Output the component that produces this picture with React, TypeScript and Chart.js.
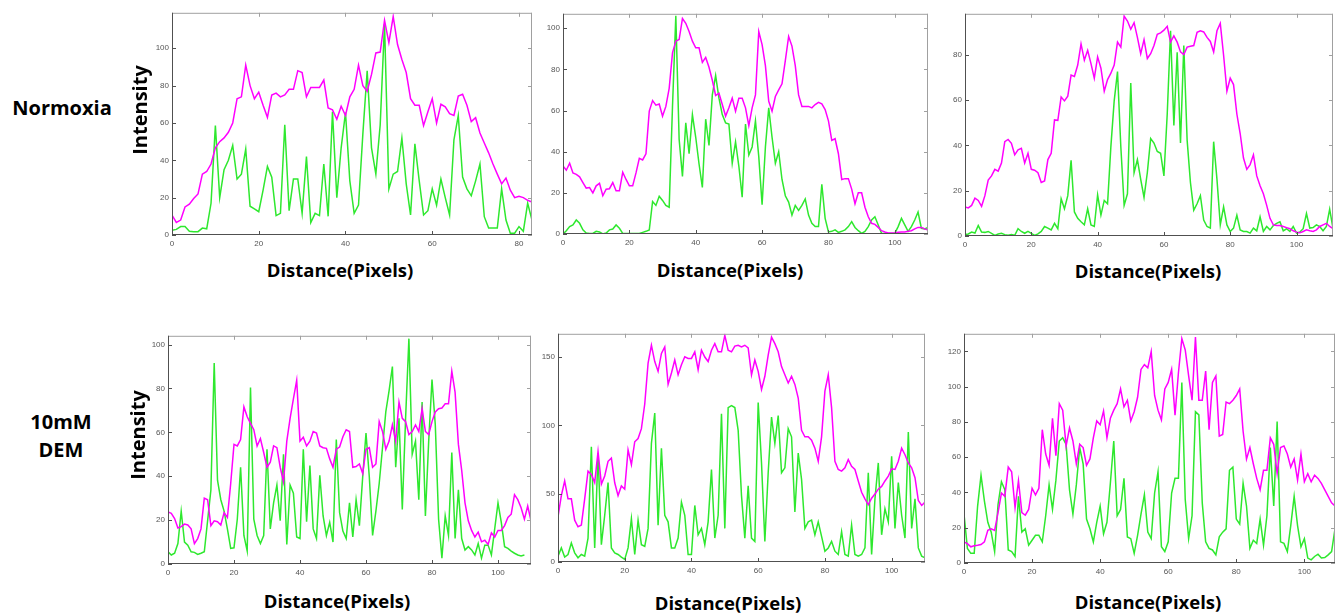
import React, { useEffect, useRef } from 'react';
import { Chart, registerables } from 'chart.js';

Chart.register(...registerables);

// ---------- data (intensity profiles, one value per pixel) ----------
const p1Magenta = [10.7, 6.7, 8, 15, 16.5, 19.5, 22, 32.6, 34, 38, 46.7, 50, 52, 55, 60, 73, 74, 91, 80, 73, 76.5, 69.5, 63, 75, 76, 74, 75, 78, 78, 88, 87, 74, 79, 79, 79, 83, 68, 67, 62, 69, 64, 74, 78, 91, 80, 77, 86, 97.5, 98, 115, 103, 117, 102, 94, 87, 73, 69.5, 69.5, 58.6, 66, 73, 60, 70, 68.6, 65, 64, 74.4, 75.4, 69.5, 60.7, 62.8, 54.6, 49.3, 44, 38, 32.6, 27.4, 30.5, 24, 20, 20.7, 20, 18.6, 17.7];
const p1Green = [2.5, 3, 4.5, 4.5, 2, 1.8, 1.8, 3.7, 3.3, 17, 58.6, 20, 35, 40, 48, 30, 32.6, 46, 15.4, 14, 12.5, 24, 36.7, 31, 10.4, 11.6, 59, 13, 30, 30, 11.6, 42, 6.7, 11.6, 10.4, 38, 10, 66, 20, 46.7, 65.6, 29, 11.6, 16, 54, 88, 46.7, 32.6, 59, 113, 24.7, 32.6, 34, 52, 27.4, 10.7, 48.8, 29, 10.7, 13, 24.7, 16, 30, 20, 10.7, 51, 64, 31, 24.7, 21, 29, 38, 9.8, 3.7, 3.7, 3.7, 24.7, 8, 1, 1, 4.5, 2, 17, 8];

const p2Magenta = [33, 31, 34.4, 29.7, 29, 27.8, 25, 22.3, 22.6, 20, 23.4, 24.6, 18.6, 21.8, 22, 25, 21, 21, 30, 26.5, 23.4, 23.4, 29.7, 36.8, 36, 39, 59.7, 64.8, 62.6, 63.2, 57.3, 62, 70.8, 88, 93.7, 94.5, 104.7, 102.4, 98.4, 93.7, 90.5, 90.5, 83.4, 85.8, 81, 74.7, 67.3, 68.4, 62.9, 57.3, 61.3, 66, 59.7, 66, 66, 61.3, 52.6, 61.3, 67.6, 98.4, 92, 81.8, 64.5, 59.7, 66.8, 70, 73, 84.2, 96, 91.3, 81.8, 67.6, 62, 62, 62, 61.3, 62.9, 64, 63.2, 60.5, 55, 45.5, 46.3, 39, 26.5, 26.9, 26.9, 21.8, 14.7, 20, 20, 13, 8.4, 5.2, 4.7, 3.2, 1.6, 1, 0.5, 0.5, 0.5, 0.8, 1, 1, 1.3, 1.6, 2.5, 3.2, 3.2, 2.5, 1.9];
const p2Green = [0, 1.6, 3.6, 4.4, 6.8, 5.2, 2, 0.5, 0.3, 0.3, 1.3, 1, 0, 0.5, 2, 2.4, 4.4, 2.8, 0.3, 0.3, 0.3, 0.3, 0.3, 0.3, 0.8, 1.3, 2, 15.8, 13.9, 18.3, 16.3, 13.9, 13, 62, 106, 46, 28, 54, 39, 58, 47, 34, 22.6, 55.8, 43, 67.6, 77, 66, 58, 54, 53.4, 34.4, 44.7, 32.9, 17.9, 53.4, 38.4, 42.3, 55, 37.6, 14.2, 42.3, 61.3, 47, 34.4, 40, 26.5, 18.6, 15.5, 9.2, 13.9, 11.5, 13.9, 17, 9.2, 5.2, 3.6, 3.6, 24.2, 7.6, 1, 1.3, 2, 0.8, 1.3, 2, 3.6, 6, 3.2, 1.6, 0.3, 1.3, 3.6, 6.8, 8.4, 4.4, 0.3, 0.3, 0.3, 0.3, 0.3, 3.6, 7.6, 4.4, 1.3, 3.6, 6.8, 10.7, 2.8, 2.5, 3.2];

const p3Magenta = [12.8, 12.4, 13.5, 16.7, 15.7, 13.1, 17.8, 24.7, 26.5, 29.4, 28.6, 32.2, 41.6, 42.6, 40.9, 35.8, 38, 38.7, 32.2, 36.5, 29.4, 29, 27.9, 23.6, 24.3, 33.7, 36.5, 51.2, 51, 61.3, 59.6, 61.7, 71, 70.4, 75.4, 84.7, 77.6, 81.9, 76, 69.6, 79, 74, 63.9, 69, 71.8, 75.4, 85.5, 83.3, 97, 94.8, 91.2, 94.1, 87.6, 80.4, 86.6, 78.3, 80.4, 84, 89, 89.6, 90.8, 92.5, 85.5, 88.3, 85.5, 81.2, 80, 83.3, 83.7, 84, 89.8, 90.5, 90, 87.6, 85.8, 81.2, 90.5, 93.8, 79.7, 63.9, 69.6, 66.8, 53.8, 45.2, 34.4, 29.4, 31.5, 35.8, 26.5, 22.2, 18.6, 13.5, 7.8, 4.9, 4.6, 4.6, 4.2, 3.7, 3.2, 2.3, 1.7, 1.4, 2, 2.7, 2.3, 2, 2.7, 4.2, 4.9, 5.6, 4.2, 3.2];
const p3Green = [0.6, 0.9, 1.7, 1.3, 4.6, 1.7, 1.6, 2, 1.2, 0.3, 0.9, 1.2, 0.6, 0.3, 0.6, 0.3, 3.2, 2, 1.2, 2, 1.2, 0.3, 0.9, 2, 4.2, 3.5, 2.7, 5.6, 3.2, 16.4, 12, 17.8, 33.4, 10.6, 7.8, 6.3, 4.9, 12, 4.9, 4.2, 18.1, 9.2, 15.7, 14.2, 39.4, 59.6, 72.5, 39.4, 13.5, 18.6, 67.5, 27.9, 33.7, 25, 17, 28, 43, 41, 37.3, 36.5, 26.5, 53.8, 90.5, 48.8, 81, 41, 84, 42.3, 23.6, 11.4, 14.2, 17.8, 7, 4.2, 3.5, 41.6, 25, 4.9, 12.8, 4.9, 2, 3.5, 9.2, 2.7, 2, 2, 1.3, 3.5, 2.3, 8.5, 2, 4.2, 2.7, 4.6, 5.6, 6.3, 2.3, 3.2, 2, 4.2, 1.3, 1.7, 3.2, 9.9, 3.5, 3.7, 4.9, 4.2, 2.3, 4.2, 11.8, 3.2];

const p4Magenta = [23.7, 23.1, 20.7, 16.4, 17, 18.2, 17.8, 16, 9.3, 11.6, 16, 30, 29.3, 17.5, 19.7, 19.3, 17.8, 23.4, 21.2, 36.7, 54.5, 53.8, 56.7, 71.6, 67.1, 64.1, 61.2, 53.8, 57.2, 50.8, 44.1, 46.4, 53.8, 53, 44.1, 37.5, 56, 66.4, 75.3, 83.7, 56, 57.8, 53.8, 56, 60.4, 59.7, 53.8, 53, 52.7, 47.9, 44.1, 52.3, 53.3, 58, 61.2, 60.4, 44.1, 44.4, 45.6, 41.2, 52.3, 53, 44.1, 45.6, 64.9, 60.4, 52.3, 56, 63.4, 56, 73.8, 66.4, 64.9, 59, 60.4, 63.4, 60.4, 70.8, 60.4, 59, 64.9, 69.3, 70.8, 71.1, 73, 73, 87.9, 78.2, 54.5, 42.7, 27.9, 19.7, 15.3, 12.3, 14.5, 10.1, 10.8, 8.9, 14.2, 12.3, 15.3, 15.3, 17.5, 21.2, 22.7, 31.6, 29.3, 25.6, 20.4, 26.4, 19.7];
const p4Green = [5.6, 4.1, 4.9, 9.3, 24.1, 10, 8.6, 5.6, 5.3, 4.4, 4.9, 5.6, 19.7, 33.8, 91.6, 38.2, 29.3, 24.1, 16, 7.1, 7.4, 20.4, 44.1, 13, 5.9, 80.4, 20.4, 13, 9.3, 13, 52.3, 16, 27.9, 36, 19.7, 50, 8.9, 36, 32.3, 12.3, 11.6, 52.3, 19.3, 44.9, 16, 11.6, 40.4, 21.9, 13, 19, 10, 56.7, 23.4, 15, 11.6, 27.9, 12.3, 29.3, 17.5, 39.7, 59.7, 39.7, 13, 24.1, 36.7, 53, 69.3, 79, 90, 44.1, 66.4, 24.9, 66.4, 102.7, 50, 56, 29.3, 73.8, 21.9, 56, 84.1, 63.4, 20.4, 2.7, 21.9, 13, 50.8, 11.6, 33.8, 11.6, 6.4, 7.9, 6.4, 4.1, 9.3, 2.7, 8.6, 8.6, 4.1, 16, 27.9, 19, 7.9, 7.1, 5.9, 4.9, 4.1, 3.7, 4.1];

const p5Magenta = [33, 48.6, 59.3, 46.2, 46.2, 30.6, 25.8, 27, 46.2, 66.5, 64.1, 58.1, 80.9, 57, 63, 73.7, 76, 58, 48.6, 55.7, 53.3, 82, 71.3, 88, 90.4, 97.6, 115.6, 145.5, 158.6, 146.7, 139.5, 152.6, 157.4, 130, 138.3, 147.8, 137, 144.3, 150.2, 149, 149, 153.8, 140.7, 155, 150, 146.7, 155, 159.8, 153.8, 153.8, 165.8, 155, 153.8, 158, 158.6, 157.4, 158.6, 156.7, 137, 147.8, 139.5, 126.3, 135.9, 151.4, 164.6, 159.8, 153.8, 143, 137, 131, 135.9, 130, 120, 96.4, 91.6, 91.6, 89.2, 83.3, 73.7, 91.6, 125, 137, 113, 73.7, 67.7, 66.5, 68.9, 74.9, 70, 67.7, 59.3, 51, 46.2, 41.9, 46.7, 49.8, 53.3, 55.3, 59.3, 62.9, 68.2, 67.7, 73.7, 83.3, 78.5, 72.5, 68.9, 61.7, 45, 41.4, 43.8];
const p5Green = [4.3, 10.3, 3.6, 5.5, 13.9, 6.7, 3.1, 5.5, 4.3, 17.5, 84.4, 10.3, 79.7, 12.7, 34.2, 58.1, 10.3, 6.7, 5.5, 3.6, 1.9, 10.3, 31.8, 5.5, 30.6, 12.7, 11.5, 24.6, 86.8, 109, 27, 83.3, 34.2, 29.4, 10.3, 10.3, 17.5, 43.8, 34.2, 5.5, 5.5, 41.4, 19.9, 24.6, 12.7, 29.4, 67.7, 17.5, 34.2, 108.4, 24.6, 113, 114.4, 113, 96.4, 48.6, 17.5, 55.7, 17.5, 15, 116.7, 72.5, 15, 65.3, 106, 86.8, 107.2, 65.3, 68.9, 97.6, 91.6, 36.6, 79.7, 60.5, 24.6, 29.4, 30.6, 19.9, 29.4, 18.7, 7.9, 10.3, 15, 7.9, 5.5, 22.2, 5.5, 4.3, 27, 5.5, 4.3, 5.5, 10.3, 65.3, 5.5, 46.2, 72.5, 19.9, 39, 29.4, 77.3, 24.6, 58.1, 34.2, 17.5, 95.2, 24.6, 46.2, 10.3, 4.3, 3.1];

const p6Magenta = [12, 11, 9.2, 9.8, 10.1, 10.5, 12, 18.5, 19.4, 18.5, 28.6, 39.7, 37.8, 54.4, 51.7, 31.4, 46.7, 28.6, 27.1, 30.4, 42.4, 38.7, 42.4, 75.6, 61.8, 55.4, 82.1, 60.9, 90.4, 86.7, 66.4, 76.6, 69.2, 56.3, 67.3, 65.5, 55.4, 59, 71, 80.6, 78.4, 86.2, 71, 82.1, 86.7, 90.4, 98.7, 88.6, 92.3, 80.6, 85.8, 94, 109.8, 112.5, 110.7, 119.9, 95, 86.7, 81.2, 98.7, 102.4, 109.8, 83.9, 107.9, 127.3, 120.8, 106.1, 92.3, 128.2, 92.3, 92.3, 108.9, 75.6, 102.4, 106.1, 72, 72.9, 91.3, 90.4, 92.3, 95, 98.7, 74.7, 59, 65.5, 56.3, 48, 41.5, 52.6, 52.6, 71, 67.3, 50.7, 65.5, 66.4, 61.8, 54.4, 59, 47, 61.8, 46.1, 50.7, 46.1, 49.8, 48, 45.2, 41.5, 37.8, 34.1, 32.3];
const p6Green = [27.7, 8.3, 5.5, 5.5, 32.3, 49.8, 35.1, 23.1, 17.5, 6.5, 33.2, 46.1, 41.5, 7.4, 6.5, 3.7, 37.8, 17.5, 19.4, 10.1, 12.9, 15.7, 15.7, 12, 26.8, 44.3, 30.4, 47, 69.2, 71, 67.3, 41.5, 27.7, 44.3, 65.5, 56.3, 24.9, 19.4, 12, 23.1, 32.3, 16.6, 23.1, 45.2, 69.2, 26.8, 30.4, 48, 14.8, 13.8, 5.5, 15.7, 27.7, 38.7, 17.5, 13.8, 39.7, 51.7, 9.2, 6.5, 12, 39.7, 48, 48, 102.4, 36, 13.8, 26.8, 85.8, 84, 34.1, 12, 8.3, 7.4, 4.6, 14.8, 17.5, 19.4, 52.6, 54.4, 24.9, 22.1, 45.2, 32.3, 8.3, 12.9, 11.1, 24.9, 10.1, 26.8, 65.5, 32.3, 80.3, 12, 11.1, 6.5, 21.2, 37.8, 21.2, 9.2, 13.8, 2.8, 1.8, 3.7, 5, 2.8, 3.1, 4.6, 6.5, 19.4];

// axis extents and tick steps
const xMaxes = [83, 110, 111, 110, 110, 109];
const yMaxes = [119, 107, 98, 104, 167, 130];
const yStepList = [20, 20, 20, 20, 50, 20];
const xStep = 20;

const rowLabels = ['Normoxia', '10mM\nDEM'];
const xTitle = 'Distance(Pixels)';
const yTitle = 'Intensity';

// ---------- layout & style ----------
const MAGENTA = '#ff00ff';
const GREEN = '#2ee82e';
const Y_AXIS_W = 30;
const X_AXIS_H = 16;
const PAD = 3;
const TITLE_FONT = '"Open Sans", "Noto Sans", sans-serif';

const boxes = [
  { left: 172, top: 8, right: 532, bottom: 234.5 },
  { left: 562.7, top: 9, right: 928, bottom: 234.3 },
  { left: 965, top: 9, right: 1333, bottom: 236.3 },
  { left: 168.3, top: 330.7, right: 531, bottom: 564 },
  { left: 558.3, top: 329, right: 925, bottom: 562.3 },
  { left: 964, top: 329, right: 1335, bottom: 563 },
];

const magentaSeries = [p1Magenta, p2Magenta, p3Magenta, p4Magenta, p5Magenta, p6Magenta];
const greenSeries = [p1Green, p2Green, p3Green, p4Green, p5Green, p6Green];

const framePlugin = {
  id: 'frameTicks',
  afterDraw(chart: any) {
    const { ctx, chartArea: a, scales } = chart;
    const t = 4;
    ctx.save();
    ctx.lineWidth = 1;
    ctx.strokeStyle = '#a0a0a0';
    ctx.beginPath();
    ctx.moveTo(a.left, a.top + 0.5);
    ctx.lineTo(a.right, a.top + 0.5);
    ctx.moveTo(a.right - 0.5, a.top);
    ctx.lineTo(a.right - 0.5, a.bottom);
    scales.x.ticks.forEach((tk: any) => {
      const px = Math.round(scales.x.getPixelForValue(tk.value)) + 0.5;
      ctx.moveTo(px, a.top);
      ctx.lineTo(px, a.top + t);
    });
    scales.y.ticks.forEach((tk: any) => {
      const py = Math.round(scales.y.getPixelForValue(tk.value)) + 0.5;
      ctx.moveTo(a.right, py);
      ctx.lineTo(a.right - t, py);
    });
    ctx.stroke();
    ctx.strokeStyle = '#505050';
    ctx.beginPath();
    ctx.moveTo(a.left + 0.5, a.top);
    ctx.lineTo(a.left + 0.5, a.bottom);
    ctx.moveTo(a.left, a.bottom - 0.5);
    ctx.lineTo(a.right, a.bottom - 0.5);
    scales.x.ticks.forEach((tk: any) => {
      const px = Math.round(scales.x.getPixelForValue(tk.value)) + 0.5;
      ctx.moveTo(px, a.bottom);
      ctx.lineTo(px, a.bottom - t);
    });
    scales.y.ticks.forEach((tk: any) => {
      const py = Math.round(scales.y.getPixelForValue(tk.value)) + 0.5;
      ctx.moveTo(a.left, py);
      ctx.lineTo(a.left + t, py);
    });
    ctx.stroke();
    ctx.restore();
  },
};

function ProfileChart({ idx }: { idx: number }) {
  const ref = useRef<HTMLCanvasElement>(null);
  const b = boxes[idx];
  const left = Math.round(b.left) - Y_AXIS_W;
  const top = Math.round(b.top) - PAD;
  const w = Math.round(b.right) - Math.round(b.left) + Y_AXIS_W + PAD;
  const h = Math.round(b.bottom) - Math.round(b.top) + PAD + X_AXIS_H;

  useEffect(() => {
    if (!ref.current) return;
    const toPts = (arr: number[]) => arr.map((v, i) => ({ x: i, y: v }));
    const tickFont = { family: '"Liberation Sans", Arial, sans-serif', size: 8 };
    const chart = new Chart(ref.current, {
      type: 'line',
      data: {
        datasets: [
          { data: toPts(magentaSeries[idx]), borderColor: MAGENTA, borderWidth: 1.5, pointRadius: 0, tension: 0, fill: false },
          { data: toPts(greenSeries[idx]), borderColor: GREEN, borderWidth: 1.5, pointRadius: 0, tension: 0, fill: false },
        ],
      },
      options: {
        animation: false,
        responsive: false,
        maintainAspectRatio: false,
        events: [],
        layout: { padding: { top: PAD, right: PAD, left: 0, bottom: 0 }, autoPadding: false },
        plugins: { legend: { display: false }, tooltip: { enabled: false }, title: { display: false } },
        scales: {
          x: {
            type: 'linear',
            min: 0,
            max: xMaxes[idx],
            afterFit: (s: any) => { s.height = X_AXIS_H; },
            grid: { display: false, drawTicks: false },
            border: { display: false },
            ticks: { stepSize: xStep, includeBounds: false, autoSkip: false, maxRotation: 0, padding: 4, color: '#555', font: tickFont },
          },
          y: {
            type: 'linear',
            min: 0,
            max: yMaxes[idx],
            afterFit: (s: any) => { s.width = Y_AXIS_W; },
            grid: { display: false, drawTicks: false },
            border: { display: false },
            ticks: { stepSize: yStepList[idx], includeBounds: false, autoSkip: false, padding: 3, color: '#555', font: tickFont },
          },
        },
      } as any,
      plugins: [framePlugin],
    });
    return () => chart.destroy();
  }, [idx]);

  return (
    <canvas
      ref={ref}
      width={w}
      height={h}
      style={{ position: 'absolute', left, top, width: w, height: h }}
    />
  );
}

const titleStyle: React.CSSProperties = {
  position: 'absolute',
  fontFamily: TITLE_FONT,
  fontWeight: 700,
  fontSize: 18.5,
  color: '#000',
  whiteSpace: 'nowrap',
  transform: 'translate(-50%, -50%)',
  lineHeight: 1,
};

const labelStyle: React.CSSProperties = { ...titleStyle, fontSize: 20 };

const xTitlePos = [
  [340, 270], [730, 270], [1148, 271],
  [337, 601], [728, 603], [1148, 602],
];

export default function App() {
  useEffect(() => {
    document.body.style.margin = '0';
  }, []);
  return (
    <div style={{ position: 'fixed', left: 0, top: 0, width: 1338, height: 616, background: '#fff', overflow: 'hidden' }}>
      {[0, 1, 2, 3, 4, 5].map((i) => <ProfileChart key={i} idx={i} />)}
      {xTitlePos.map(([x, y], i) => (
        <div key={'xt' + i} style={{ ...titleStyle, left: x, top: y }}>{xTitle}</div>
      ))}
      <div style={{ ...labelStyle, left: 140, top: 110, transform: 'translate(-50%, -50%) rotate(-90deg)' }}>{yTitle}</div>
      <div style={{ ...labelStyle, left: 138, top: 435, transform: 'translate(-50%, -50%) rotate(-90deg)' }}>{yTitle}</div>
      <div style={{ ...labelStyle, left: 62, top: 108 }}>{rowLabels[0]}</div>
      <div style={{ ...labelStyle, left: 61, top: 436, textAlign: 'center', lineHeight: '28px', whiteSpace: 'pre' }}>{rowLabels[1]}</div>
    </div>
  );
}
